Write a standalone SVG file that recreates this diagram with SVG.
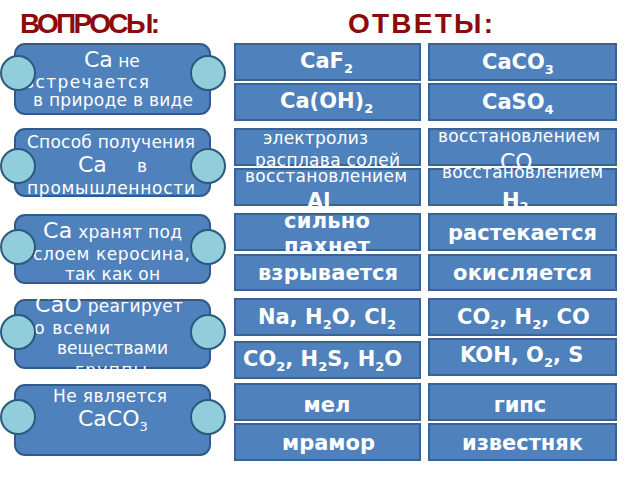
<svg xmlns="http://www.w3.org/2000/svg" width="640" height="480" viewBox="0 0 640 480">
<style>
.title{font-family:"Liberation Sans",Arial,sans-serif;font-weight:bold;font-size:28px;fill:#8b0b0b}
.qb{fill:#4f81bd;stroke:#2f5a8a;stroke-width:2}
.ab{fill:#4f81bd;stroke:#3a6394;stroke-width:2}
.cc{fill:#92cddc;stroke:#2c5a7e;stroke-width:2}
.t{font-family:"DejaVu Sans","Noto Sans",sans-serif;fill:#ffffff;font-size:17px}
.b{font-family:"DejaVu Sans","Noto Sans",sans-serif;fill:#ffffff;font-size:21px;font-weight:bold}
.big{font-size:22px}
.sub{font-size:13px}
</style>
<rect width="640" height="480" fill="#ffffff"/>
<text class="title" x="20" y="33" textLength="140">ВОПРОСЫ:</text>
<text class="title" x="348" y="33" textLength="145">ОТВЕТЫ:</text>

<g id="q1">
<rect class="qb" x="15" y="44" width="195" height="70" rx="10"/>
<text class="t" x="84" y="67"><tspan class="big">Са</tspan> не</text>
<text class="t" x="24" y="88" textLength="125">встречается</text>
<text class="t" x="33" y="106" textLength="160">в природе в виде</text>
<circle class="cc" cx="18" cy="73" r="17"/>
<circle class="cc" cx="208" cy="73" r="17"/>
</g>

<g id="q2">
<rect class="qb" x="15" y="129" width="195" height="67" rx="10"/>
<text class="t" x="27" y="148" textLength="168">Способ получения</text>
<text class="t" x="78" y="172"><tspan class="big">Са</tspan></text>
<text class="t" x="137" y="172">в</text>
<text class="t" x="27" y="194" textLength="168">промышленности</text>
<circle class="cc" cx="18" cy="166" r="17"/>
<circle class="cc" cx="208" cy="166" r="17"/>
</g>

<g id="q3">
<rect class="qb" x="15" y="215" width="195" height="68" rx="10"/>
<text class="t" x="43" y="238" textLength="139"><tspan class="big">Са</tspan> хранят под</text>
<text class="t" x="33" y="260" textLength="157">слоем керосина,</text>
<text class="t" x="65" y="280" textLength="95">так как он</text>
<circle class="cc" cx="18" cy="247" r="17"/>
<circle class="cc" cx="208" cy="247" r="17"/>
</g>

<g id="q4">
<rect class="qb" x="15" y="300" width="195" height="68" rx="10"/>
<text class="t" x="35" y="312" textLength="148"><tspan class="big">CaO</tspan> реагирует</text>
<text class="t" x="24" y="334" textLength="86">со всеми</text>
<text class="t" x="57" y="354" textLength="111">веществами</text>
<text class="t" x="75" y="376" textLength="72">группы</text>
<circle class="cc" cx="18" cy="332" r="17"/>
<circle class="cc" cx="208" cy="332" r="17"/>
</g>

<g id="q5">
<rect class="qb" x="15" y="385" width="195" height="70" rx="10"/>
<text class="t" x="53" y="402" textLength="114">Не является</text>
<text class="t" x="78" y="426"><tspan class="big">CaCO</tspan><tspan class="sub" dy="5">3</tspan></text>
<circle class="cc" cx="18" cy="417" r="17"/>
<circle class="cc" cx="208" cy="417" r="17"/>
</g>

<g id="a1"><rect class="ab" x="235" y="44" width="185" height="36"/>
<text class="b" x="300" y="68">CaF<tspan class="sub" dy="5">2</tspan></text></g>
<g id="a2"><rect class="ab" x="429" y="44" width="187" height="36"/>
<text class="b" x="482" y="69">CaCO<tspan class="sub" dy="5">3</tspan></text></g>
<g id="a3"><rect class="ab" x="235" y="84" width="185" height="36"/>
<text class="b" x="280" y="108">Ca(OH)<tspan class="sub" dy="5">2</tspan></text></g>
<g id="a4"><rect class="ab" x="429" y="84" width="187" height="36"/>
<text class="b" x="482" y="109">CaSO<tspan class="sub" dy="5">4</tspan></text></g>

<g id="a5"><rect class="ab" x="235" y="129" width="185" height="36"/>
<text class="t" x="263" y="144" textLength="105">электролиз</text>
<text class="t" x="255" y="166" textLength="145">расплава солей</text></g>
<g id="a6"><rect class="ab" x="429" y="129" width="187" height="36"/>
<text class="t" x="438" y="142" textLength="162">восстановлением</text>
<text class="t" x="500" y="169"><tspan class="big">CO</tspan></text></g>
<g id="a7"><rect class="ab" x="235" y="169" width="185" height="36"/>
<text class="t" x="245" y="182" textLength="162">восстановлением</text>
<text class="b" x="307" y="208">Al</text></g>
<g id="a8"><rect class="ab" x="429" y="169" width="187" height="36"/>
<text class="t" x="442" y="178" textLength="161">восстановлением</text>
<text class="b" x="502" y="208">H<tspan class="sub" dy="3">2</tspan></text></g>

<g id="a9"><rect class="ab" x="235" y="214" width="185" height="36"/>
<text class="b" x="284" y="228" textLength="86">сильно</text>
<text class="b" x="284" y="253" textLength="86">пахнет</text></g>
<g id="a10"><rect class="ab" x="429" y="214" width="187" height="36"/>
<text class="b" x="448" y="240" textLength="149">растекается</text></g>
<g id="a11"><rect class="ab" x="235" y="255" width="185" height="35"/>
<text class="b" x="258" y="280" textLength="140">взрывается</text></g>
<g id="a12"><rect class="ab" x="429" y="255" width="187" height="35"/>
<text class="b" x="453" y="280" textLength="139">окисляется</text></g>

<g id="a13"><rect class="ab" x="235" y="299" width="185" height="36"/>
<text class="b" x="258" y="324">Na, H<tspan class="sub" dy="5">2</tspan><tspan dy="-5">O, Cl</tspan><tspan class="sub" dy="5">2</tspan></text></g>
<g id="a14"><rect class="ab" x="429" y="299" width="187" height="36"/>
<text class="b" x="457" y="324">CO<tspan class="sub" dy="5">2</tspan><tspan dy="-5">, H</tspan><tspan class="sub" dy="5">2</tspan><tspan dy="-5">, CO</tspan></text></g>
<g id="a15"><rect class="ab" x="235" y="342" width="185" height="36"/>
<text class="b" x="243" y="366">CO<tspan class="sub" dy="5">2</tspan><tspan dy="-5">, H</tspan><tspan class="sub" dy="5">2</tspan><tspan dy="-5">S, H</tspan><tspan class="sub" dy="5">2</tspan><tspan dy="-5">O</tspan></text></g>
<g id="a16"><rect class="ab" x="429" y="339" width="187" height="36"/>
<text class="b" x="460" y="362">KOH, O<tspan class="sub" dy="5">2</tspan><tspan dy="-5">, S</tspan></text></g>

<g id="a17"><rect class="ab" x="235" y="384" width="185" height="36"/>
<text class="b" x="327" y="412" text-anchor="middle">мел</text></g>
<g id="a18"><rect class="ab" x="429" y="384" width="187" height="36"/>
<text class="b" x="520" y="412" text-anchor="middle">гипс</text></g>
<g id="a19"><rect class="ab" x="235" y="424" width="185" height="36"/>
<text class="b" x="282" y="450" textLength="93">мрамор</text></g>
<g id="a20"><rect class="ab" x="429" y="424" width="187" height="36"/>
<text class="b" x="462" y="450" textLength="121">известняк</text></g>
</svg>
